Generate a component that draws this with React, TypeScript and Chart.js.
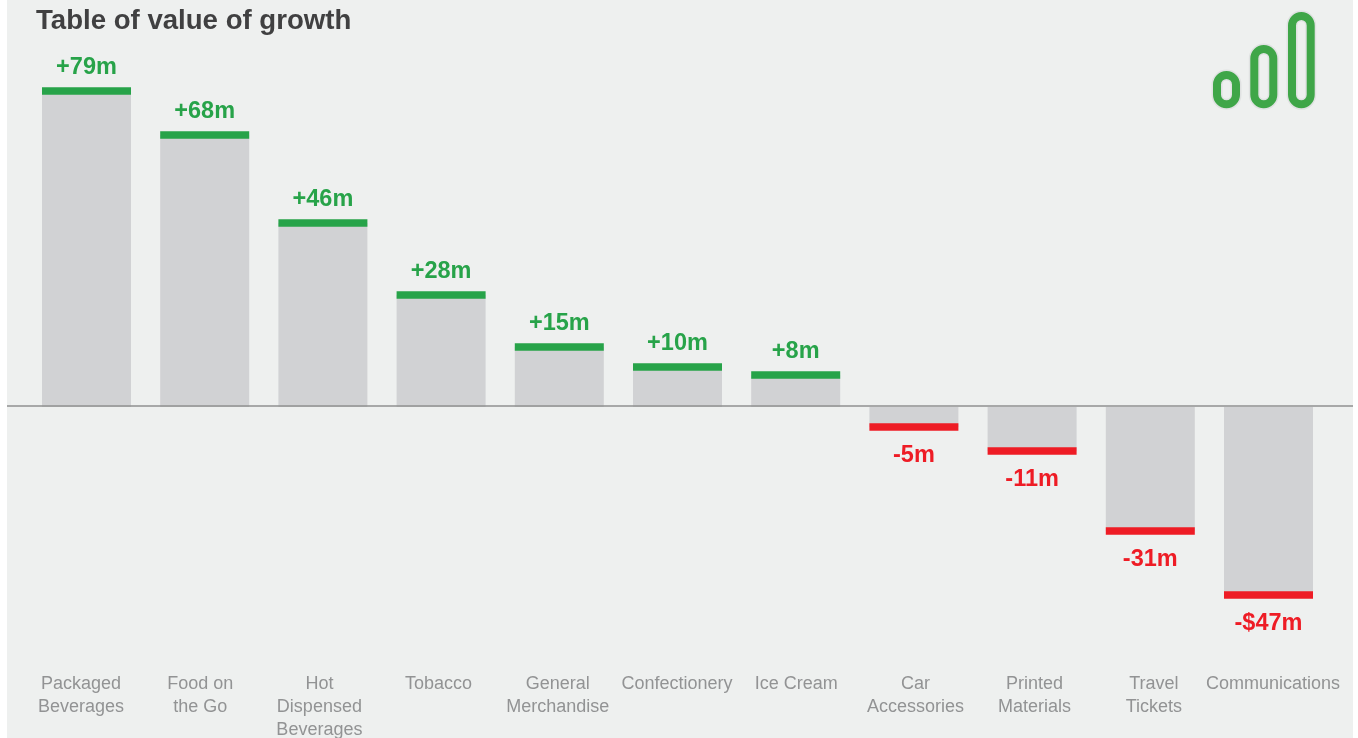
import React, { useEffect, useRef } from "react";
import { Chart, registerables } from "chart.js";

Chart.register(...registerables);

const categories: string[][] = [
  ["Packaged", "Beverages"],
  ["Food on", "the Go"],
  ["Hot", "Dispensed", "Beverages"],
  ["Tobacco"],
  ["General", "Merchandise"],
  ["Confectionery"],
  ["Ice Cream"],
  ["Car", "Accessories"],
  ["Printed", "Materials"],
  ["Travel", "Tickets"],
  ["Communications"],
];
const growth = [79, 68, 46, 28, 15, 10, 8, -5, -11, -31, -47];
const valueLabels = ["+79m", "+68m", "+46m", "+28m", "+15m", "+10m", "+8m", "-5m", "-11m", "-31m", "-$47m"];

const GREEN = "#27a349";
const RED = "#ee1c25";
const CAP_HALF = 0.95;

const WIDTH = 1358;
const HEIGHT = 738;
const PAD_LEFT = 27.4;
const PAD_RIGHT = 30.4;
const AXIS_HEIGHT = 78;
const LABEL_START = 81;
const LABEL_PITCH = 119.2;

// Baseline across the whole panel and the value captions next to each cap.
const annotate = {
  id: "annotate",
  afterDatasetsDraw(chart: any) {
    const { ctx, scales } = chart;
    const zero = scales.y.getPixelForValue(0) - 1;
    ctx.save();
    ctx.strokeStyle = "#8f9191";
    ctx.lineWidth = 1.3;
    ctx.beginPath();
    ctx.moveTo(7, zero);
    ctx.lineTo(1353, zero);
    ctx.stroke();

    const caps = chart.getDatasetMeta(1).data;
    ctx.font = "bold 23.5px 'Liberation Sans'";
    ctx.textAlign = "center";
    ctx.textBaseline = "middle";
    growth.forEach((v, i) => {
      ctx.fillStyle = v >= 0 ? GREEN : RED;
      const bar = caps[i];
      ctx.fillText(valueLabels[i], bar.x, bar.y + (v >= 0 ? -19.5 : 25));
    });
    ctx.restore();
  },
};

function Icon() {
  const bars = [
    [1217, 75, 19, 29.3],
    [1254.3, 49, 19, 55.3],
    [1292, 16, 18.7, 88.3],
  ];
  return (
    <svg
      width={WIDTH}
      height={HEIGHT}
      style={{ position: "absolute", left: 0, top: 0, pointerEvents: "none" }}
    >
      {bars.map(([x, y, w, h], i) => (
        <g key={i} fill="none">
          <rect x={x} y={y} width={w} height={h} rx={9.5} stroke="#e0e2e2" strokeWidth={11} />
          <rect x={x} y={y} width={w} height={h} rx={9.5} stroke="#3fa648" strokeWidth={8} />
        </g>
      ))}
    </svg>
  );
}

export default function App() {
  const ref = useRef<HTMLCanvasElement>(null);

  useEffect(() => {
    const plotWidth = WIDTH - PAD_LEFT - PAD_RIGHT;
    const plotHeight = HEIGHT - AXIS_HEIGHT;
    const unit = 4;
    const zeroY = 407;
    const chart = new Chart(ref.current!, {
      type: "bar",
      data: {
        labels: categories.map((c) => c.join(" ")),
        datasets: [
          {
            label: "Growth",
            data: growth.map((v) => [0, v]),
            backgroundColor: "#d1d2d4",
            grouped: false,
            order: 2,
          },
          {
            label: "Cap",
            data: growth.map((v) => [v - CAP_HALF, v + CAP_HALF]),
            backgroundColor: growth.map((v) => (v >= 0 ? GREEN : RED)),
            grouped: false,
            order: 1,
          },
        ] as any,
      },
      options: {
        responsive: false,
        animation: false,
        layout: { padding: { left: PAD_LEFT, right: PAD_RIGHT, top: 0, bottom: 0 } },
        plugins: { legend: { display: false }, tooltip: { enabled: false } },
        datasets: { bar: { barPercentage: 0.753, categoryPercentage: 1 } },
        scales: {
          x: { display: false, offset: true },
          y: {
            display: false,
            min: (zeroY - plotHeight) / unit,
            max: zeroY / unit,
          },
          labelAxis: {
            type: "linear",
            position: "bottom",
            axis: "x",
            bounds: "data",
            offset: false,
            min: (PAD_LEFT - LABEL_START) / LABEL_PITCH,
            max: (PAD_LEFT + plotWidth - LABEL_START) / LABEL_PITCH,
            grid: { display: false },
            border: { display: false },
            afterFit(scale: any) {
              scale.height = AXIS_HEIGHT;
            },
            afterBuildTicks(scale: any) {
              scale.ticks = categories.map((_, i) => ({ value: i }));
            },
            ticks: {
              autoSkip: false,
              maxRotation: 0,
              minRotation: 0,
              padding: 5,
              color: "#929394",
              font: { family: "'Liberation Sans'", size: 18, lineHeight: 1.278 },
              callback: (v: any) => categories[v],
            },
          },
        } as any,
      },
      plugins: [annotate],
    });
    return () => chart.destroy();
  }, []);

  return (
    <div style={{ position: "fixed", left: 0, top: 0, width: WIDTH, height: HEIGHT, background: "#fff", overflow: "hidden" }}>
      <div style={{ position: "absolute", left: 7, top: 0, width: 1346, height: HEIGHT, background: "#eef0ef" }} />
      <canvas ref={ref} width={WIDTH} height={HEIGHT} style={{ position: "absolute", left: 0, top: 0, display: "block" }} />
      <div
        style={{
          position: "absolute",
          left: 36,
          top: 2,
          fontFamily: "'Liberation Sans'",
          fontWeight: 700,
          fontSize: 27.6,
          lineHeight: "36px",
          color: "#404041",
          whiteSpace: "nowrap",
        }}
      >
        Table of value of growth
      </div>
      <Icon />
    </div>
  );
}
